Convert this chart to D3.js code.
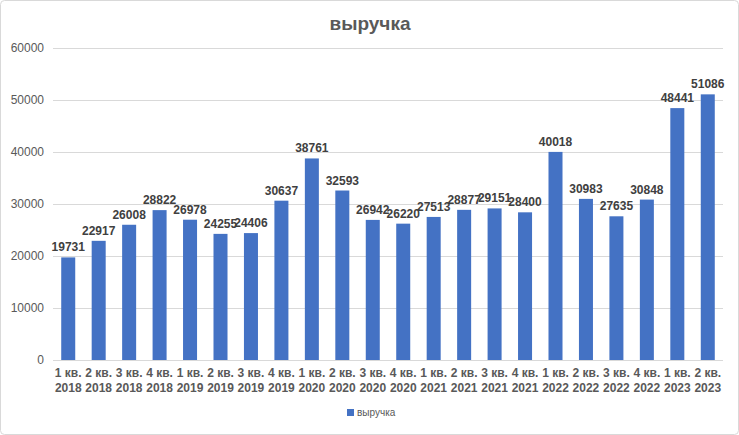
<html>
<head>
<meta charset="utf-8">
<script src="https://d3js.org/d3.v7.min.js"></script>
<style>body{margin:0;background:#fff}</style>
</head>
<body>
<script>
const quarters = ['1 кв.','2 кв.','3 кв.','4 кв.','1 кв.','2 кв.','3 кв.','4 кв.','1 кв.','2 кв.','3 кв.','4 кв.','1 кв.','2 кв.','3 кв.','4 кв.','1 кв.','2 кв.','3 кв.','4 кв.','1 кв.','2 кв.']
const years = ['2018','2018','2018','2018','2019','2019','2019','2019','2020','2020','2020','2020','2021','2021','2021','2021','2022','2022','2022','2022','2023','2023']
const revenue = [19731,22917,26008,28822,26978,24255,24406,30637,38761,32593,26942,26220,27513,28877,29151,28400,40018,30983,27635,30848,48441,51086]
const yTicks = [0,10000,20000,30000,40000,50000,60000]

const svg = d3.select('body').append('svg')
    .attr('width', 739)
    .attr('height', 435)

svg.append('rect')
    .attr('x', 0.5).attr('y', 0.5)
    .attr('width', 738).attr('height', 434)
    .attr('rx', 4)
    .attr('fill', '#fff')
    .attr('stroke', '#d9d9d9')

const x = d3.scaleBand()
    .domain(d3.range(revenue.length))
    .range([53, 723])
    .paddingInner(0.54)
    .paddingOuter(0.27)

const y = d3.scaleLinear()
    .domain([0, 60000])
    .range([360, 48])

// gridlines
svg.append('g').selectAll('line')
    .data(yTicks)
    .enter().append('line')
    .attr('x1', 53).attr('x2', 723)
    .attr('y1', d => y(d) + 0.5).attr('y2', d => y(d) + 0.5)
    .attr('stroke', '#d9d9d9')

// y labels
svg.append('g').selectAll('text')
    .data(yTicks)
    .enter().append('text')
    .attr('x', 44)
    .attr('y', d => y(d) + 4)
    .attr('text-anchor', 'end')
    .attr('font-family', 'Liberation Sans, Arial')
    .attr('font-size', 12)
    .attr('fill', '#595959')
    .text(d => d)

// bars
svg.append('g').selectAll('rect')
    .data(revenue)
    .enter().append('rect')
    .attr('x', (d, i) => x(i))
    .attr('y', d => y(d))
    .attr('width', x.bandwidth())
    .attr('height', d => y(0) - y(d))
    .attr('fill', '#4472c4')

// value labels
svg.append('g').selectAll('text')
    .data(revenue)
    .enter().append('text')
    .attr('x', (d, i) => x(i) + x.bandwidth() / 2)
    .attr('y', d => y(d) - 6)
    .attr('text-anchor', 'middle')
    .attr('font-family', 'Liberation Sans, Arial')
    .attr('font-size', 12)
    .attr('font-weight', 'bold')
    .attr('fill', '#404040')
    .text(d => d)

// x labels
const xl = svg.append('g').selectAll('text')
    .data(quarters)
    .enter().append('text')
    .attr('text-anchor', 'middle')
    .attr('font-family', 'Liberation Sans, Arial')
    .attr('font-size', 12)
    .attr('font-weight', 'bold')
    .attr('fill', '#595959')
xl.append('tspan')
    .attr('x', (d, i) => x(i) + x.bandwidth() / 2)
    .attr('y', 377)
    .text(d => d)
xl.append('tspan')
    .attr('x', (d, i) => x(i) + x.bandwidth() / 2)
    .attr('y', 392)
    .text((d, i) => years[i])

// title
svg.append('text')
    .attr('x', 370).attr('y', 30)
    .attr('text-anchor', 'middle')
    .attr('font-family', 'Liberation Sans, Arial')
    .attr('font-size', 19)
    .attr('font-weight', 'bold')
    .attr('fill', '#595959')
    .text('выручка')

// legend
svg.append('rect')
    .attr('x', 347).attr('y', 409)
    .attr('width', 7).attr('height', 7)
    .attr('fill', '#4472c4')
svg.append('text')
    .attr('x', 357).attr('y', 416)
    .attr('font-family', 'Liberation Sans, Arial')
    .attr('font-size', 10)
    .attr('fill', '#595959')
    .text('выручка')
</script>
</body>
</html>
